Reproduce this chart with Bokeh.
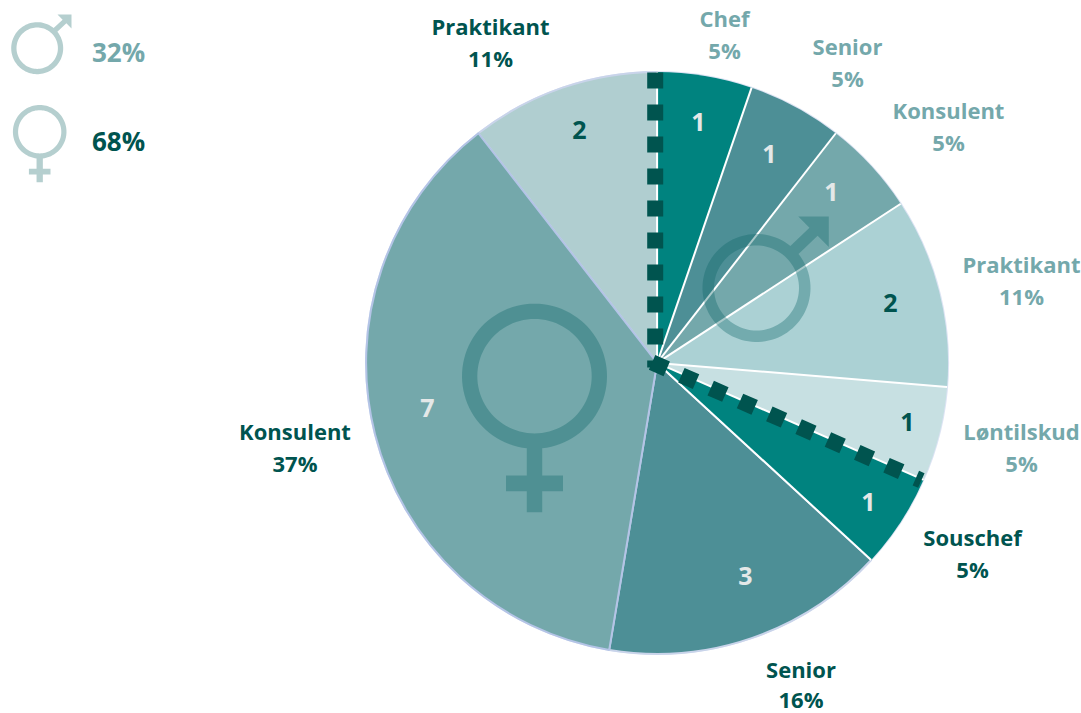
import math
from bokeh.plotting import figure
from bokeh.models import Range1d
from bokeh.core.properties import value
from bokeh.embed import file_html
from bokeh.resources import INLINE

# ---- data
names = ["Chef", "Senior", "Konsulent", "Praktikant", "Løntilskud", "Souschef", "Senior", "Konsulent", "Praktikant"]
counts = [1, 1, 1, 2, 1, 1, 3, 7, 2]
percents = ["5%", "5%", "5%", "11%", "5%", "5%", "16%", "37%", "11%"]
colors = ["#00837F", "#4D8F96", "#74A8AB", "#ABD1D4", "#C7E0E2", "#00837F", "#4D8F96", "#74A8AB", "#B0CED0"]
edge_colors = [None, None, None, None, None, None, "#C9D4EA", "#B4C4E6", "#C9D4EA"]
legend_values = ["32%", "68%"]

# ---- layout (page pixels)
W, H = 1081, 713
CX, CY, R = 656.6, 362.4, 291
name_pos = [(724, 17), (847, 45), (948, 109), (1021, 263), (1021, 430), (972, 536), (800.5, 668), (294.5, 430), (490, 25)]
pct_pos = [(724, 49), (847, 77), (948, 141), (1021, 295), (1021, 462), (972, 568), (800.5, 698), (294.5, 462), (490, 57)]
name_colors = ["#74A8AB"] * 5 + ["#00544F"] * 4
count_pos = [(698, 121), (769, 153), (831, 191), (890, 302), (907, 421), (868, 501), (745, 575), (427, 407), (579, 129)]
count_colors = ["#E4E8E8", "#E4E8E8", "#E4E8E8", "#00544F", "#00544F", "#E4E8E8", "#E4E8E8", "#E4E8E8", "#00544F"]
FONT = value("Open Sans")


def Y(py):
    return H - py


p = figure(width=W, height=H, x_range=Range1d(0, W), y_range=Range1d(0, H),
           output_backend="svg", toolbar_location=None, min_border=0,
           outline_line_color=None)
p.xaxis.visible = False
p.yaxis.visible = False
p.grid.visible = False

total = sum(counts)
cum = [sum(counts[:i]) for i in range(len(counts) + 1)]
start = [math.pi / 2 - 2 * math.pi * c / total for c in cum[1:]]
end = [math.pi / 2 - 2 * math.pi * c / total for c in cum[:-1]]

# faint halo under the pie, then slices with the lavender-edged ones first
p.scatter(x=[CX], y=[Y(CY)], size=2 * R, marker="circle", fill_color=None, line_color="#DDE4F4", line_width=2)
order = [6, 8, 7, 0, 1, 2, 3, 4, 5]
p.wedge(x=CX, y=Y(CY), radius=R,
        start_angle=[start[i] for i in order], end_angle=[end[i] for i in order], direction="anticlock",
        fill_color=[colors[i] for i in order], line_color=[edge_colors[i] for i in order], line_width=2)

# white spokes between the slices of the first group
spoke_angles = [2 * math.pi * c / total for c in cum[:7]]
p.segment(x0=[CX] * len(spoke_angles), y0=[Y(CY)] * len(spoke_angles),
          x1=[CX + R * math.sin(a) for a in spoke_angles], y1=[Y(CY) + R * math.cos(a) for a in spoke_angles],
          line_color="#FFFFFF", line_width=2)


def ring_outline(cx, cy, r_out, r_in, tail_angle, half_w, tail):
    """Closed outline: ring broken where `tail` (page-pixel points) leaves it; angles in page pixels."""
    da = math.asin(half_w / r_out)
    steps = 96
    xs, ys = [], []
    for i in range(steps + 1):
        a = tail_angle + da + (2 * math.pi - 2 * da) * i / steps
        xs.append(cx + r_out * math.cos(a))
        ys.append(cy + r_out * math.sin(a))
    xs += [t[0] for t in tail]
    ys += [t[1] for t in tail]
    hx = [cx + r_in * math.cos(2 * math.pi * i / 96) for i in range(96)]
    hy = [cy + r_in * math.sin(2 * math.pi * i / 96) for i in range(96)]
    return xs, [Y(v) for v in ys], hx, [Y(v) for v in hy]


def female(cx, cy, r_out, sw, stem_w, bottom, bar_top, bar_bottom, bar_half):
    h = stem_w / 2
    tail = [(cx + h, bar_top), (cx + bar_half, bar_top), (cx + bar_half, bar_bottom), (cx + h, bar_bottom),
            (cx + h, bottom), (cx - h, bottom), (cx - h, bar_bottom), (cx - bar_half, bar_bottom),
            (cx - bar_half, bar_top), (cx - h, bar_top)]
    return ring_outline(cx, cy, r_out, r_out - sw, math.pi / 2, h, tail)


def male(cx, cy, r_out, sw, tip_x, tip_y, head):
    h = sw / 2
    nx, ny = math.sqrt(.5), math.sqrt(.5)   # right-down normal
    bx, by = tip_x - head / 2, tip_y + head / 2
    tail = [(bx - nx * h, by - ny * h), (tip_x - head, tip_y), (tip_x, tip_y), (tip_x, tip_y + head),
            (bx + nx * h, by + ny * h)]
    return ring_outline(cx, cy, r_out, r_out - sw, -math.pi / 4, h, tail)


def draw_icon(shape, color, alpha=1.0):
    xs, ys, hx, hy = shape
    p.multi_polygons(xs=[[[xs, hx]]], ys=[[[ys, hy]]], fill_color=color, fill_alpha=alpha, line_color=None)


# big icons inside the pie
ICON = "#0B6467"
draw_icon(female(534, 375.7, 72.5, 15.3, 15.4, 511.7, 475, 490.7, 28.5), ICON, 0.35)
draw_icon(male(756, 287.5, 54, 11.5, 828.3, 216, 30.5), ICON, 0.35)

# dotted separators: gender split, along slice boundaries
split_idx = 5
a_split = 2 * math.pi * cum[split_idx] / total
DOT = "#00544F"
p.line([654.7, 654.7], [Y(72), Y(367)], line_color=DOT, line_width=16, line_dash="16 16")
sx, sy = 651.6, 361.9
L = 294
p.line([sx, sx + L * math.sin(a_split)], [Y(sy), Y(sy - L * math.cos(a_split))],
       line_color=DOT, line_width=16, line_dash="16 16")

# labels
p.text(x=[q[0] for q in name_pos], y=[Y(q[1]) for q in name_pos], text=names, text_color=name_colors,
       text_font=FONT, text_font_style="bold", text_font_size="22px", text_align="center", text_baseline="middle")
p.text(x=[q[0] for q in pct_pos], y=[Y(q[1]) for q in pct_pos], text=percents, text_color=name_colors,
       text_font=FONT, text_font_style="bold", text_font_size="22px", text_align="center", text_baseline="middle")
p.text(x=[q[0] for q in count_pos], y=[Y(q[1]) for q in count_pos], text=[str(c) for c in counts],
       text_color=count_colors, text_font=FONT, text_font_style="bold", text_font_size="25px",
       text_align="center", text_baseline="middle")

# legend
LEG = "#B5CFCF"
draw_icon(male(36.7, 47.7, 26, 5.3, 71, 14, 14), LEG)
draw_icon(female(39.2, 131.3, 26.8, 5.2, 6.3, 181.7, 168.3, 174, 10.8), LEG)
p.text(x=[118, 118], y=[Y(51), Y(140)], text=legend_values, text_color=["#74A8AB", "#00544F"],
       text_font=FONT, text_font_style="bold", text_font_size="26px", text_align="center", text_baseline="middle")

open("out.html", "w").write(file_html(p, INLINE))
